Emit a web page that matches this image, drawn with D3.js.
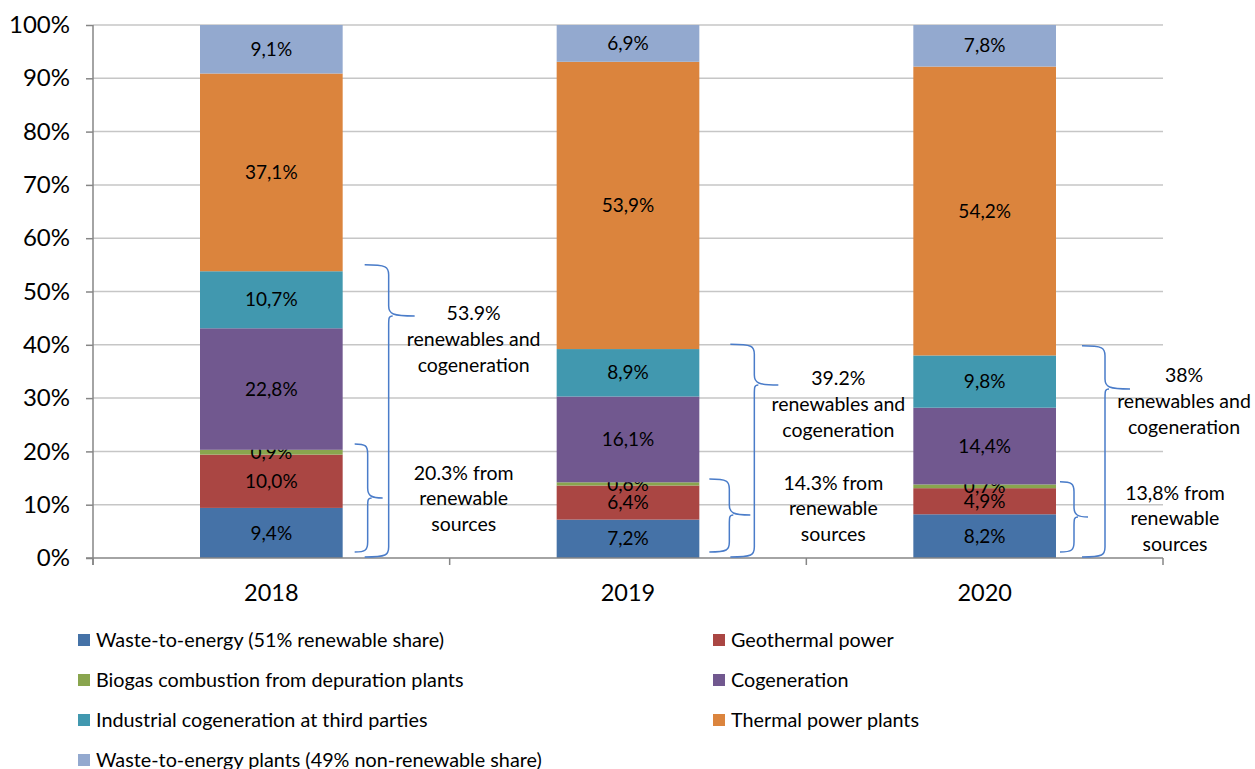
<!DOCTYPE html>
<html>
<head>
<meta charset="utf-8">
<script src="https://cdn.jsdelivr.net/npm/d3@7"></script>
<style>
  body { margin: 0; background: #fff; }
  svg { display: block; font-family: Lato, "Open Sans", sans-serif; }
</style>
</head>
<body>
<svg id="chart" width="1255" height="769"></svg>
<script>
// chart data
var years = ["2018", "2019", "2020"];
var seriesNames = [
  "Waste-to-energy (51% renewable share)",
  "Geothermal power",
  "Biogas combustion from depuration plants",
  "Cogeneration",
  "Industrial cogeneration at third parties",
  "Thermal power plants",
  "Waste-to-energy plants (49% non-renewable share)"
];
var wasteRenew = [9.4, 7.2, 8.2];
var geothermal = [10.0, 6.4, 4.9];
var biogas = [0.9, 0.6, 0.7];
var cogeneration = [22.8, 16.1, 14.4];
var industrialCogen = [10.7, 8.9, 9.8];
var thermal = [37.1, 53.9, 54.2];
var wasteNonRenew = [9.1, 6.9, 7.8];
var yTicks = [0, 10, 20, 30, 40, 50, 60, 70, 80, 90, 100];

// bracket notes (value reached by each brace, label lines)
var bigBraceTop = [55.0, 40.1, 39.8];
var bigNotes = [
  ["53.9%", "renewables and", "cogeneration"],
  ["39.2%", "renewables and", "cogeneration"],
  ["38%", "renewables and", "cogeneration"]
];
var smallBraceTop = [21.4, 14.8, 14.3];
var smallNotes = [
  ["20.3% from", "renewable", "sources"],
  ["14.3% from", "renewable", "sources"],
  ["13,8% from", "renewable", "sources"]
];

var colors = ["#4572a7", "#aa4643", "#89a54e", "#71588f", "#4198af", "#db843d", "#93a9cf"];

var series = [wasteRenew, geothermal, biogas, cogeneration, industrialCogen, thermal, wasteNonRenew];

function draw() {
  var svg = d3.select("#chart");
  var left = 93, right = 1163, plotTop = 25, bottom = 558;

  var x = d3.scaleBand().domain(years).range([left, right])
    .paddingInner(0.6).paddingOuter(0.3);
  var y = d3.scaleLinear().domain([0, 100]).range([bottom, plotTop]);

  // gridlines
  svg.append("g").selectAll("line")
    .data(yTicks.filter(function (d) { return d > 0; }))
    .join("line")
    .attr("x1", left).attr("x2", right)
    .attr("y1", function (d) { return y(d); })
    .attr("y2", function (d) { return y(d); })
    .attr("stroke", "#c6c6c6").attr("stroke-width", 1.5);

  // y axis
  var yAxis = svg.append("g").attr("transform", "translate(" + left + ",0)")
    .call(d3.axisLeft(y).tickValues(yTicks).tickSize(7).tickPadding(16)
      .tickFormat(function (d) { return d + "%"; }));
  yAxis.select(".domain").remove();
  yAxis.selectAll(".tick line").attr("stroke", "#868686").attr("stroke-width", 1.5);
  yAxis.selectAll(".tick text").attr("font-size", 24).attr("fill", "#000")
    .attr("font-family", "Lato, sans-serif");
  svg.append("line").attr("x1", left).attr("x2", left)
    .attr("y1", plotTop).attr("y2", bottom + 7)
    .attr("stroke", "#868686").attr("stroke-width", 1.5);

  // stack
  var rows = years.map(function (yr, i) {
    var r = { year: yr };
    series.forEach(function (s, k) { r["s" + k] = s[i]; });
    return r;
  });
  var keys = series.map(function (s, k) { return "s" + k; });
  var stacked = d3.stack().keys(keys)(rows);

  var layers = svg.append("g").selectAll("g")
    .data(stacked).join("g")
    .attr("fill", function (d, k) { return colors[k]; });

  layers.selectAll("rect")
    .data(function (d) { return d; })
    .join("rect")
    .attr("x", function (d) { return x(d.data.year); })
    .attr("width", x.bandwidth())
    .attr("y", function (d) { return y(d[1]); })
    .attr("height", function (d) { return y(d[0]) - y(d[1]); });

  layers.selectAll("text")
    .data(function (d) { return d; })
    .join("text")
    .attr("x", function (d) { return x(d.data.year) + x.bandwidth() / 2; })
    .attr("y", function (d) { return (y(d[0]) + y(d[1])) / 2; })
    .attr("dy", "0.35em")
    .attr("text-anchor", "middle")
    .attr("font-size", 19)
    .attr("fill", "#000")
    .text(function (d) { return d3.format(".1f")(d[1] - d[0]).replace(".", ",") + "%"; });

  // x axis
  var xAxisG = svg.append("g");
  xAxisG.append("line").attr("x1", left - 7).attr("x2", right)
    .attr("y1", bottom).attr("y2", bottom)
    .attr("stroke", "#868686").attr("stroke-width", 1.5);
  var step = x.step();
  xAxisG.selectAll(".xt").data(d3.range(years.length + 1)).join("line")
    .attr("x1", function (i) { return left + i * step; })
    .attr("x2", function (i) { return left + i * step; })
    .attr("y1", bottom).attr("y2", bottom + 7)
    .attr("stroke", "#868686").attr("stroke-width", 1.5);
  xAxisG.selectAll("text").data(years).join("text")
    .attr("x", function (d) { return x(d) + x.bandwidth() / 2; })
    .attr("y", 593).attr("dy", "0.35em")
    .attr("text-anchor", "middle").attr("font-size", 23.5)
    .text(function (d) { return d; });

  // curly brace path: left tip x0, spine x1, point x2, from yt to yb with point at ym
  function brace(x0, x1, x2, yt, ym, yb) {
    var c = 10;
    return "M" + x0 + "," + yt +
      " C" + (x1 - 2) + "," + yt + " " + x1 + "," + (yt + 2) + " " + x1 + "," + (yt + c) +
      " L" + x1 + "," + (ym - c) +
      " C" + x1 + "," + (ym - 2) + " " + (x1 + 4) + "," + ym + " " + x2 + "," + ym +
      " M" + (x1 + 4) + "," + ym +
      " C" + x1 + "," + ym + " " + x1 + "," + (ym + 2) + " " + x1 + "," + (ym + c) +
      " L" + x1 + "," + (yb - c) +
      " C" + x1 + "," + (yb - 2) + " " + (x1 - 2) + "," + yb + " " + x0 + "," + yb;
  }

  var bigOff = [[22, 46, 72], [31, 55, 79], [26, 49, 74]];
  var smallOff = [[12, 25, 40], [10, 30, 51], [4, 18, 32]];
  var bigMid = [316, 385, 389];
  var smallMid = [498, 515, 517];
  var bigText = [[131, 313], [139, 378], [128, 375]];
  var smallText = [[121, 473], [134, 483], [119, 493]];

  var notes = svg.append("g");
  years.forEach(function (yr, i) {
    var bx = x(yr) + x.bandwidth();
    notes.append("path")
      .attr("d", brace(bx + bigOff[i][0], bx + bigOff[i][1], bx + bigOff[i][2],
        y(bigBraceTop[i]), bigMid[i], y(0) - 1))
      .attr("fill", "none").attr("stroke", "#4a7cc9").attr("stroke-width", 1.5);
    notes.append("path")
      .attr("d", brace(bx + smallOff[i][0], bx + smallOff[i][1], bx + smallOff[i][2],
        y(smallBraceTop[i]), smallMid[i], y(0) - 6))
      .attr("fill", "none").attr("stroke", "#4a7cc9").attr("stroke-width", 1.5);

    bigNotes[i].forEach(function (line, j) {
      notes.append("text")
        .attr("x", bx + bigText[i][0]).attr("y", bigText[i][1] + j * 26)
        .attr("dy", "0.35em").attr("text-anchor", "middle")
        .attr("font-size", 19.5).text(line);
    });
    smallNotes[i].forEach(function (line, j) {
      notes.append("text")
        .attr("x", bx + smallText[i][0]).attr("y", smallText[i][1] + j * 25.5)
        .attr("dy", "0.35em").attr("text-anchor", "middle")
        .attr("font-size", 19.5).text(line);
    });
  });

  // legend
  var legend = svg.append("g");
  seriesNames.forEach(function (name, k) {
    var col = k % 2, row = Math.floor(k / 2);
    var lx = col === 0 ? 78 : 713, ly = 640 + row * 40;
    legend.append("rect").attr("x", lx).attr("y", ly - 6)
      .attr("width", 12).attr("height", 12).attr("fill", colors[k]);
    legend.append("text").attr("x", lx + 18).attr("y", ly)
      .attr("dy", "0.35em").attr("font-size", 19.8).text(name);
  });
}

draw();
</script>
</body>
</html>
